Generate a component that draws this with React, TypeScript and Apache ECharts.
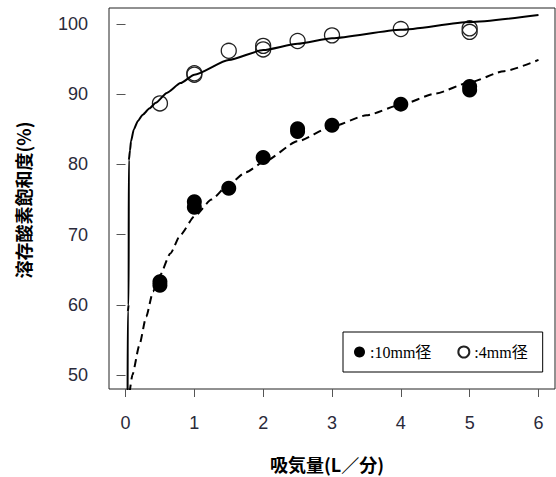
import React, { useEffect, useRef } from "react";
import * as echarts from "echarts";

// Tick values
const xTicks = [0, 1, 2, 3, 4, 5, 6];
const yTicks = [50, 60, 70, 80, 90, 100];

// Measured points: 10mm diameter (filled)
const d10X = [0.5, 0.5, 1, 1, 1.5, 2, 2.5, 2.5, 3, 4, 5, 5];
const d10Y = [63.3, 62.8, 74.7, 73.9, 76.6, 81.0, 84.7, 85.1, 85.6, 88.6, 90.6, 91.1];

// Measured points: 4mm diameter (open)
const d4X = [0.5, 1, 1, 1.5, 2, 2, 2.5, 3, 4, 5, 5];
const d4Y = [88.7, 92.8, 93.0, 96.2, 96.9, 96.4, 97.6, 98.4, 99.3, 99.4, 98.9];

// Fitted curve: 4mm (solid)
const fit4X = [0.03, 0.033, 0.045, 0.048, 0.065, 0.08, 0.12, 0.18, 0.25, 0.35, 0.44, 0.6, 0.8, 1.0, 1.5, 2.0, 2.5, 3.0, 4.0, 5.0, 6.0];
const fit4Y = [47, 59, 60, 80.6, 82, 83.3, 85.0, 86.2, 87.1, 88.0, 88.8, 90.2, 91.6, 92.8, 94.9, 96.3, 97.2, 98.0, 99.2, 100.3, 101.3];

// Fitted curve: 10mm (dashed)
const fit10X = [0.06, 0.1, 0.2, 0.3, 0.4, 0.5, 0.65, 0.8, 1.0, 1.25, 1.5, 1.75, 2.0, 2.5, 3.0, 3.5, 4.0, 4.5, 5.0, 5.5, 6.0];
const fit10Y = [47.5, 50, 54.2, 58.3, 61.9, 64.2, 67.3, 70.0, 72.6, 75.0, 77.2, 78.9, 80.3, 83.3, 85.4, 87.0, 88.5, 90.1, 91.7, 93.3, 94.9];

const name10 = ":10mm径";
const name4 = ":4mm径";
const xTitle = "吸気量(L／分)";
const yTitle = "溶存酸素飽和度(%)";

const zip = (xs: number[], ys: number[]) => xs.map((x, i) => [x, ys[i]]);

export default function App() {
  const ref = useRef<HTMLDivElement>(null);
  useEffect(() => {
    if (!ref.current) return;
    const chart = echarts.init(ref.current, null, { renderer: "svg" });
    const tickFont = { fontFamily: "'Liberation Sans', Arial, sans-serif", fontSize: 18, color: "#2a2a3a" };
    chart.setOption({
      animation: false,
      backgroundColor: "#fff",
      grid: { left: 109, right: 1, top: 8, bottom: 88, show: true, borderColor: "#222", borderWidth: 1, backgroundColor: "transparent" },
      xAxis: {
        type: "value",
        min: -0.24,
        max: 6.24,
        axisLine: { show: false },
        splitLine: { show: false },
        axisTick: { show: true, length: 8, customValues: xTicks, lineStyle: { color: "#555", width: 1 } },
        axisLabel: { customValues: xTicks, margin: 25, ...tickFont },
      },
      yAxis: {
        type: "value",
        min: 48,
        max: 102.3,
        axisLine: { show: false },
        splitLine: { show: false },
        axisTick: { show: true, length: 9, customValues: yTicks, lineStyle: { color: "#555", width: 1 } },
        axisLabel: { customValues: yTicks, margin: 21, ...tickFont },
      },
      legend: {
        left: 343,
        top: 332,
        orient: "horizontal",
        borderColor: "#000",
        borderWidth: 1,
        borderRadius: 0,
        padding: [12, 15, 12, 11],
        itemGap: 26,
        itemWidth: 11,
        itemHeight: 11,
        textStyle: { fontFamily: "'Liberation Serif', 'Noto Sans CJK JP', serif", fontSize: 16, color: "#000" },
        data: [
          { name: name10, icon: "circle" },
          { name: name4, icon: "circle" },
        ],
      },
      series: [
        {
          name: name10,
          type: "scatter",
          symbol: "circle",
          symbolSize: 15,
          itemStyle: { color: "#000", opacity: 1 },
          data: zip(d10X, d10Y),
          z: 2,
        },
        {
          name: name4,
          type: "scatter",
          symbol: "circle",
          symbolSize: 15,
          itemStyle: { color: "rgba(255,255,255,0)", borderColor: "#222", borderWidth: 1.3, opacity: 1 },
          data: zip(d4X, d4Y),
          z: 2,
        },
        {
          name: "fit4",
          type: "line",
          showSymbol: false,
          symbol: "none",
          smooth: 0.2,
          smoothMonotone: "x",
          lineStyle: { color: "#000", width: 2, type: "solid" },
          data: zip(fit4X, fit4Y),
          z: 3,
        },
        {
          name: "fit10",
          type: "line",
          showSymbol: false,
          symbol: "none",
          smooth: 0.2,
          smoothMonotone: "x",
          lineStyle: { color: "#000", width: 2, type: [8, 5] },
          data: zip(fit10X, fit10Y),
          z: 3,
        },
      ],
      graphic: [
        {
          type: "text",
          x: 327,
          y: 464,
          style: {
            text: xTitle,
            fontFamily: "'Noto Sans CJK JP', sans-serif",
            fontWeight: "bold",
            fontSize: 18,
            fill: "#000",
            align: "center",
            verticalAlign: "middle",
          },
        },
        {
          type: "text",
          x: 23,
          y: 200,
          rotation: Math.PI / 2,
          style: {
            text: yTitle,
            fontFamily: "'Noto Sans CJK JP', sans-serif",
            fontWeight: "bold",
            fontSize: 18,
            fill: "#000",
            align: "center",
            verticalAlign: "middle",
          },
        },
      ],
    });
    return () => chart.dispose();
  }, []);
  return <div ref={ref} style={{ position: "absolute", left: 0, top: 0, width: 556, height: 477 }} />;
}
